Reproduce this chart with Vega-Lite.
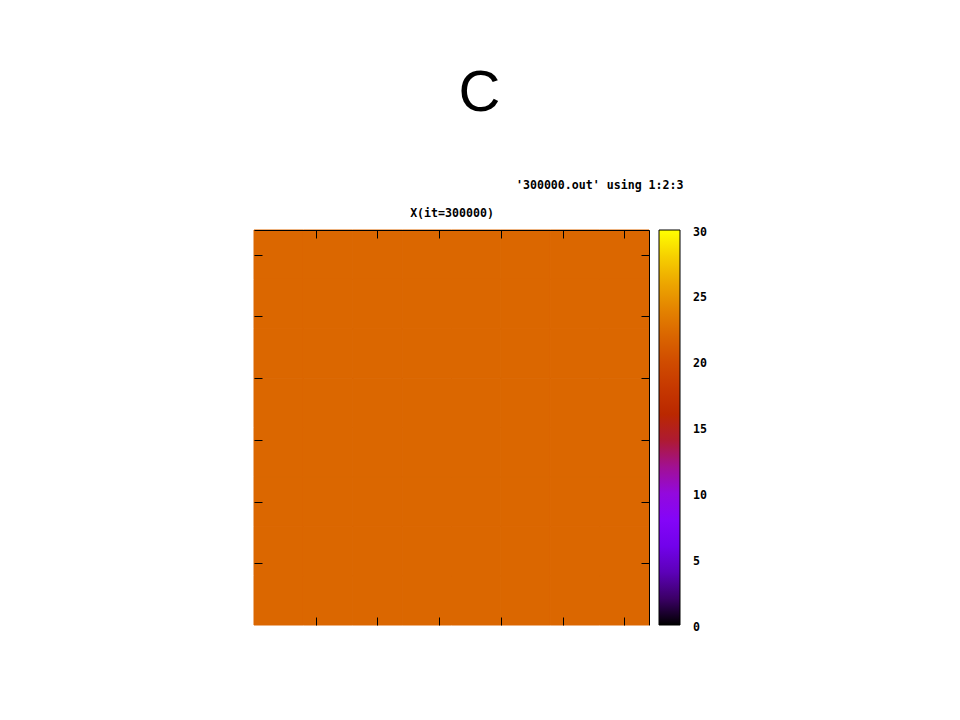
{
  "$schema": "https://vega.github.io/schema/vega-lite/v6.json",
  "autosize": {"type": "none"},
  "padding": {"left": 254, "top": 230, "right": 311, "bottom": 95},
  "width": 395,
  "height": 395,
  "background": "white",
  "title": {"text": "C", "font": "Liberation Sans", "fontSize": 58, "fontWeight": "normal", "color": "black", "anchor": "middle", "dx": 28, "offset": 56},
  "data": {"values": [
    {"x":0,"x2":8,"y":0,"y2":8,"v":22.1},{"x":8,"x2":16,"y":0,"y2":8,"v":22.1},{"x":16,"x2":24,"y":0,"y2":8,"v":22.1},{"x":24,"x2":32,"y":0,"y2":8,"v":22.1},{"x":32,"x2":40,"y":0,"y2":8,"v":22.1},{"x":40,"x2":48,"y":0,"y2":8,"v":22.1},{"x":48,"x2":56,"y":0,"y2":8,"v":22.1},{"x":56,"x2":64,"y":0,"y2":8,"v":22.1},
    {"x":0,"x2":8,"y":8,"y2":16,"v":22.1},{"x":8,"x2":16,"y":8,"y2":16,"v":22.1},{"x":16,"x2":24,"y":8,"y2":16,"v":22.1},{"x":24,"x2":32,"y":8,"y2":16,"v":22.1},{"x":32,"x2":40,"y":8,"y2":16,"v":22.1},{"x":40,"x2":48,"y":8,"y2":16,"v":22.1},{"x":48,"x2":56,"y":8,"y2":16,"v":22.1},{"x":56,"x2":64,"y":8,"y2":16,"v":22.1},
    {"x":0,"x2":8,"y":16,"y2":24,"v":22.1},{"x":8,"x2":16,"y":16,"y2":24,"v":22.1},{"x":16,"x2":24,"y":16,"y2":24,"v":22.1},{"x":24,"x2":32,"y":16,"y2":24,"v":22.1},{"x":32,"x2":40,"y":16,"y2":24,"v":22.1},{"x":40,"x2":48,"y":16,"y2":24,"v":22.1},{"x":48,"x2":56,"y":16,"y2":24,"v":22.1},{"x":56,"x2":64,"y":16,"y2":24,"v":22.1},
    {"x":0,"x2":8,"y":24,"y2":32,"v":22.1},{"x":8,"x2":16,"y":24,"y2":32,"v":22.1},{"x":16,"x2":24,"y":24,"y2":32,"v":22.1},{"x":24,"x2":32,"y":24,"y2":32,"v":22.1},{"x":32,"x2":40,"y":24,"y2":32,"v":22.1},{"x":40,"x2":48,"y":24,"y2":32,"v":22.1},{"x":48,"x2":56,"y":24,"y2":32,"v":22.1},{"x":56,"x2":64,"y":24,"y2":32,"v":22.1},
    {"x":0,"x2":8,"y":32,"y2":40,"v":22.1},{"x":8,"x2":16,"y":32,"y2":40,"v":22.1},{"x":16,"x2":24,"y":32,"y2":40,"v":22.1},{"x":24,"x2":32,"y":32,"y2":40,"v":22.1},{"x":32,"x2":40,"y":32,"y2":40,"v":22.1},{"x":40,"x2":48,"y":32,"y2":40,"v":22.1},{"x":48,"x2":56,"y":32,"y2":40,"v":22.1},{"x":56,"x2":64,"y":32,"y2":40,"v":22.1},
    {"x":0,"x2":8,"y":40,"y2":48,"v":22.1},{"x":8,"x2":16,"y":40,"y2":48,"v":22.1},{"x":16,"x2":24,"y":40,"y2":48,"v":22.1},{"x":24,"x2":32,"y":40,"y2":48,"v":22.1},{"x":32,"x2":40,"y":40,"y2":48,"v":22.1},{"x":40,"x2":48,"y":40,"y2":48,"v":22.1},{"x":48,"x2":56,"y":40,"y2":48,"v":22.1},{"x":56,"x2":64,"y":40,"y2":48,"v":22.1},
    {"x":0,"x2":8,"y":48,"y2":56,"v":22.1},{"x":8,"x2":16,"y":48,"y2":56,"v":22.1},{"x":16,"x2":24,"y":48,"y2":56,"v":22.1},{"x":24,"x2":32,"y":48,"y2":56,"v":22.1},{"x":32,"x2":40,"y":48,"y2":56,"v":22.1},{"x":40,"x2":48,"y":48,"y2":56,"v":22.1},{"x":48,"x2":56,"y":48,"y2":56,"v":22.1},{"x":56,"x2":64,"y":48,"y2":56,"v":22.1},
    {"x":0,"x2":8,"y":56,"y2":64,"v":22.1},{"x":8,"x2":16,"y":56,"y2":64,"v":22.1},{"x":16,"x2":24,"y":56,"y2":64,"v":22.1},{"x":24,"x2":32,"y":56,"y2":64,"v":22.1},{"x":32,"x2":40,"y":56,"y2":64,"v":22.1},{"x":40,"x2":48,"y":56,"y2":64,"v":22.1},{"x":48,"x2":56,"y":56,"y2":64,"v":22.1},{"x":56,"x2":64,"y":56,"y2":64,"v":22.1}
  ]},
  "layer": [
    {
      "mark": {"type": "rect", "stroke": "#db6700", "strokeWidth": 1},
      "encoding": {
        "x": {"field": "x", "type": "quantitative", "scale": {"domain": [0, 64], "nice": false, "zero": false},
              "axis": {"orient": "bottom", "zindex": 1, "labels": false, "domain": false, "grid": false, "ticks": true, "tickSize": -8, "tickColor": "black", "tickWidth": 1, "values": [10, 20, 30, 40, 50, 60], "title": null}},
        "x2": {"field": "x2"},
        "y": {"field": "y", "type": "quantitative", "scale": {"domain": [0, 64], "nice": false, "zero": false},
              "axis": {"orient": "left", "zindex": 1, "labels": false, "domain": false, "grid": false, "ticks": true, "tickSize": -8, "tickColor": "black", "tickWidth": 1, "values": [10, 20, 30, 40, 50, 60], "title": null}},
        "y2": {"field": "y2"},
        "color": {"field": "v", "type": "quantitative",
                  "scale": {"domain": [0, 30], "range": ["#000000", "#4a0080", "#6801dd", "#8004ff", "#9309dd", "#a51280", "#b42000", "#c33300", "#d04c00", "#dd6c00", "#e99400", "#f4c400", "#ffff00"], "interpolate": "rgb"},
                  "legend": {"orient": "none", "legendX": 405, "legendY": 0, "direction": "vertical", "type": "gradient", "gradientLength": 395, "gradientThickness": 21, "gradientStrokeColor": "black", "gradientStrokeWidth": 1, "values": [0, 5, 10, 15, 20, 25, 30], "labelFont": "DejaVu Sans Mono", "labelFontWeight": "bold", "labelFontSize": 11.6, "labelColor": "black", "labelOffset": 13, "labelBaseline": "middle", "title": null, "padding": 0,
                             "encode": {"labels": {"update": {"baseline": {"value": "middle"}, "dy": {"value": 2.5}}}}}}
      }
    },
    {
      "mark": {"type": "point", "opacity": 0},
      "encoding": {
        "x": {"field": "x", "type": "quantitative",
              "axis": {"orient": "top", "zindex": 1, "labels": false, "domain": true, "domainColor": "black", "domainWidth": 1, "grid": false, "ticks": true, "tickSize": -8, "tickColor": "black", "tickWidth": 1, "values": [10, 20, 30, 40, 50, 60], "title": "X(it=300000)", "titleFont": "DejaVu Sans Mono", "titleFontWeight": "bold", "titleFontSize": 11.6, "titleColor": "black", "titlePadding": 11}},
        "y": {"field": "y", "type": "quantitative",
              "axis": {"orient": "right", "zindex": 1, "labels": false, "domain": true, "domainColor": "black", "domainWidth": 1, "grid": false, "ticks": true, "tickSize": -8, "tickColor": "black", "tickWidth": 1, "values": [10, 20, 30, 40, 50, 60], "title": "'300000.out' using 1:2:3", "titleFont": "DejaVu Sans Mono", "titleFontWeight": "bold", "titleFontSize": 11.6, "titleColor": "black", "titleAngle": 0, "titleAlign": "right", "titleBaseline": "middle", "titleX": 34, "titleY": -45}}
      }
    }
  ],
  "resolve": {"axis": {"x": "independent", "y": "independent"}},
  "config": {"view": {"stroke": null}}
}
